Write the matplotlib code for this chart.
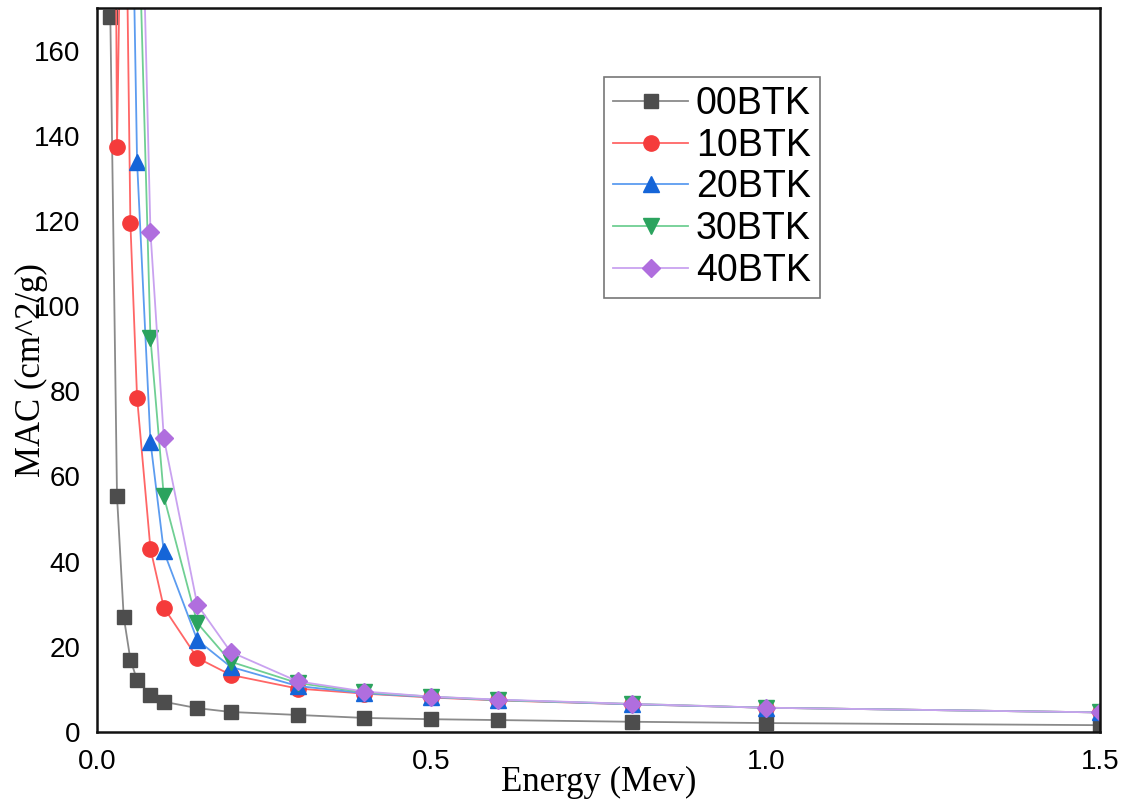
import matplotlib
matplotlib.use("Agg")
import matplotlib.pyplot as plt

# Photon energies (MeV)
energy = [0.02, 0.03, 0.04, 0.05, 0.06, 0.08, 0.1, 0.15, 0.2, 0.3, 0.4, 0.5, 0.6, 0.8, 1.0, 1.5]

# Mass attenuation coefficients (cm^2/g)
# (points above 170 are off the chart; values estimated from the line slopes)
mac_00 = [168, 55.3, 27.1, 17.0, 12.2, 8.7, 7.1, 5.6, 4.7, 4.0, 3.3, 3.0, 2.8, 2.4, 2.1, 1.6]
mac_10 = [410, 137.4, 240, 119.5, 78.5, 43.0, 29.2, 17.4, 13.4, 10.2, 9.0, 8.1, 7.4, 6.5, 5.7, 4.6]
mac_20 = [650, 330, 430, 225, 133.9, 68.2, 42.4, 21.6, 15.3, 10.8, 9.1, 8.2, 7.5, 6.5, 5.7, 4.6]
mac_30 = [800, 420, 560, 330, 205, 92.5, 55.3, 25.6, 16.5, 11.5, 9.3, 8.3, 7.5, 6.6, 5.7, 4.6]
mac_40 = [900, 480, 650, 400, 245, 117.4, 69.0, 29.9, 18.8, 11.9, 9.5, 8.3, 7.6, 6.6, 5.7, 4.6]

labels = ['00BTK', '10BTK', '20BTK', '30BTK', '40BTK']

fig = plt.figure(figsize=(11.3, 8.05), dpi=100)
ax = fig.add_axes([0.0858, 0.0907, 0.8877, 0.8993])

series = [
    (mac_00, 's', '#4d4d4d', '#8a8a8a', 10),
    (mac_10, 'o', '#f53b3b', '#ff6666', 11),
    (mac_20, '^', '#1565d8', '#5c9cf0', 11),
    (mac_30, 'v', '#2ba35e', '#6fcf93', 11),
    (mac_40, 'D', '#b06ede', '#c9a2f0', 9),
]

for (vals, mk, mcol, lcol, ms), lab in zip(series, labels):
    ax.plot(energy, vals, color=lcol, linewidth=1.3, marker=mk, markersize=ms,
            markerfacecolor=mcol, markeredgecolor=mcol, label=lab, clip_on=True)

ax.set_xlim(0, 1.5)
ax.set_ylim(0, 170)
ax.set_xticks([0.0, 0.5, 1.0, 1.5])
ax.set_yticks(range(0, 161, 20))

ax.tick_params(axis='both', length=0, labelsize=20, pad=12)
for t in ax.get_xticklabels() + ax.get_yticklabels():
    t.set_family('Liberation Sans')

for sp in ax.spines.values():
    sp.set_linewidth(1.8)
    sp.set_color('#111111')

ax.set_xlabel('Energy (Mev)', family='Liberation Serif', fontsize=25, labelpad=-6)
ax.set_ylabel('MAC (cm^2/g)', family='Liberation Serif', fontsize=25)
ax.yaxis.set_label_coords(-0.049, 0.5)

leg = ax.legend(loc='upper left', bbox_to_anchor=(0.5055, 0.905),
                prop={'family': 'Liberation Sans', 'size': 27},
                frameon=True, fancybox=False, edgecolor='#555555',
                handlelength=2.0, handletextpad=0.2, labelspacing=0.15,
                borderpad=0.25, borderaxespad=0)
leg.get_frame().set_linewidth(1.2)

fig.savefig('out.png', dpi=100)
